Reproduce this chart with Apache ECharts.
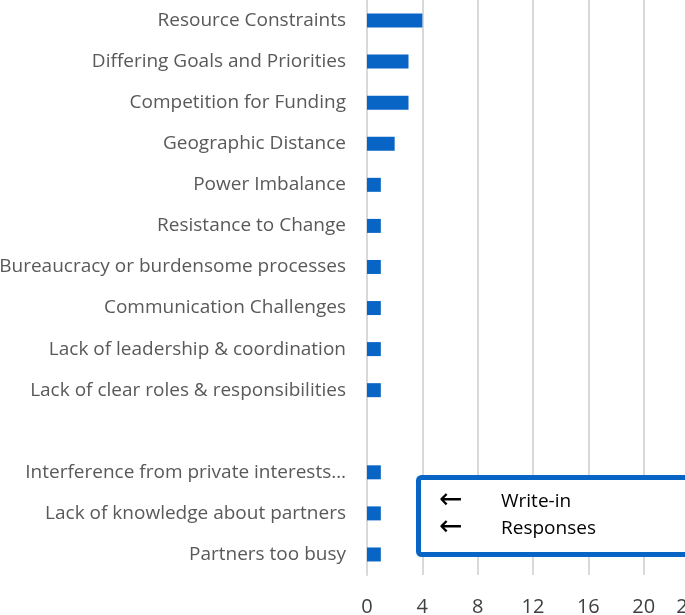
<!DOCTYPE html>
<html><head><meta charset="utf-8">
<script src="https://cdn.jsdelivr.net/npm/echarts@6/dist/echarts.min.js"></script>
<style>html,body{margin:0;padding:0;overflow:hidden;background:#fff;width:685px;height:615px}#c{width:720px;height:615px}</style>
</head><body><div id="c"></div>
<script>
const categories = ["Resource Constraints","Differing Goals and Priorities","Competition for Funding","Geographic Distance","Power Imbalance","Resistance to Change","Bureaucracy or burdensome processes","Communication Challenges","Lack of leadership & coordination","Lack of clear roles & responsibilities","","Interference from private interests…","Lack of knowledge about partners","Partners too busy"];
const values = [4,3,3,2,1,1,1,1,1,1,null,1,1,1];
const xTicks = {min:0, max:24, interval:4};
const noteLines = ["Write-in","Responses"];

const chart = echarts.init(document.getElementById('c'));
chart.setOption({
  animation:false,
  grid:{left:367, right:21, top:0, bottom:40, containLabel:false, outerBoundsMode:'none'},
  xAxis:{type:'value', min:xTicks.min, max:xTicks.max, interval:xTicks.interval,
    axisLine:{show:false}, axisTick:{show:false},
    axisLabel:{color:'#404040', fontSize:20, fontFamily:'Open Sans', margin:22, alignMaxLabel:'right'},
    splitLine:{show:true, lineStyle:{color:'#d9d9d9', width:2}}},
  yAxis:{type:'category', data:categories, inverse:true,
    axisLine:{show:true, lineStyle:{color:'#d9d9d9', width:2}}, axisTick:{show:false},
    axisLabel:{color:'#595959', fontSize:19, fontFamily:'Open Sans', margin:21}},
  series:[{type:'bar', data:values, barWidth:14, itemStyle:{color:'#0865c6'}}],
  graphic:[
    {type:'group', z:100, children:[
      {type:'rect', z:100, left:416, top:475, shape:{width:300, height:77, r:3}, style:{fill:'#fff', stroke:'#0865c6', lineWidth:5}},
      {type:'text', z:101, left:439, top:487, style:{text:'←', fontSize:28, fill:'#000', fontFamily:'DejaVu Sans'}},
      {type:'text', z:101, left:439, top:514, style:{text:'←', fontSize:28, fill:'#000', fontFamily:'DejaVu Sans'}},
      {type:'text', z:101, left:501, top:492, style:{text:noteLines[0], fontSize:19, fill:'#000', fontFamily:'Open Sans'}},
      {type:'text', z:101, left:501, top:519, style:{text:noteLines[1], fontSize:19, fill:'#000', fontFamily:'Open Sans'}}
    ]}
  ]
});
</script></body></html>
